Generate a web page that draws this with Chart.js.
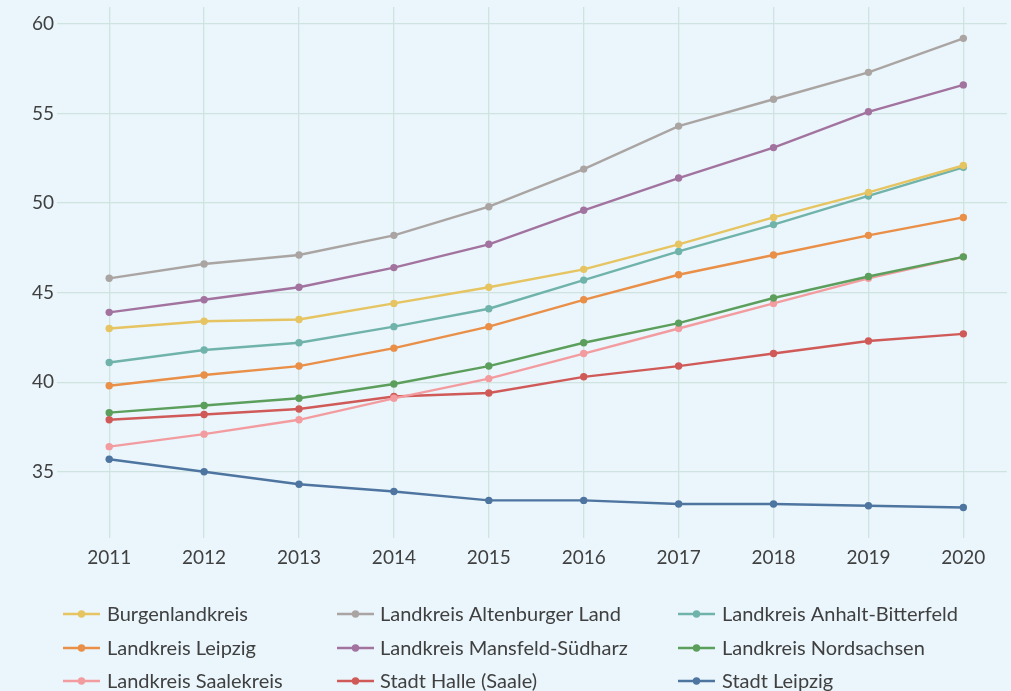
<!DOCTYPE html>
<html><head><meta charset="utf-8">
<script src="https://cdn.jsdelivr.net/npm/chart.js@4"></script>
<style>html,body{margin:0;padding:0;background:#eaf6fc;}#w{width:1011px;height:691px;position:relative;}</style>
</head><body><div id="w"><canvas id="c" width="1011" height="691"></canvas></div>
<script>
const years = [2011,2012,2013,2014,2015,2016,2017,2018,2019,2020];
const yTicks = [35,40,45,50,55,60];
const names = ["Burgenlandkreis","Landkreis Altenburger Land","Landkreis Anhalt-Bitterfeld","Landkreis Leipzig","Landkreis Mansfeld-Südharz","Landkreis Nordsachsen","Landkreis Saalekreis","Stadt Halle (Saale)","Stadt Leipzig"];
const burgenland = [43.0,43.4,43.5,44.4,45.3,46.3,47.7,49.2,50.6,52.1];
const altenburg = [45.8,46.6,47.1,48.2,49.8,51.9,54.3,55.8,57.3,59.2];
const anhalt = [41.1,41.8,42.2,43.1,44.1,45.7,47.3,48.8,50.4,52.0];
const lkLeipzig = [39.8,40.4,40.9,41.9,43.1,44.6,46.0,47.1,48.2,49.2];
const mansfeld = [43.9,44.6,45.3,46.4,47.7,49.6,51.4,53.1,55.1,56.6];
const nordsachsen = [38.3,38.7,39.1,39.9,40.9,42.2,43.3,44.7,45.9,47.0];
const saalekreis = [36.4,37.1,37.9,39.1,40.2,41.6,43.0,44.4,45.8,47.0];
const halle = [37.9,38.2,38.5,39.2,39.4,40.3,40.9,41.6,42.3,42.7];
const stLeipzig = [35.7,35.0,34.3,33.9,33.4,33.4,33.2,33.2,33.1,33.0];
const seriesValues = [burgenland,altenburg,anhalt,lkLeipzig,mansfeld,nordsachsen,saalekreis,halle,stLeipzig];
const colors = ["#e6c461","#aaa5a2","#70b3ab","#e98f47","#a2739f","#5c9f5c","#f39ca0","#d05a58","#4e74a0"];

const FONT = "Lato, 'Open Sans', sans-serif";
const datasets = names.map((n,i)=>({
  label:n,
  data: years.map((y,j)=>({x:y,y:seriesValues[i][j]})),
  borderColor: colors[i], backgroundColor: colors[i],
  borderWidth: 2.4, pointRadius: 3.7, pointBorderWidth: 0, tension: 0
}));

const legendPlugin = {
  id:'gridLegend',
  afterDraw(chart){
    const ctx = chart.ctx;
    const cols = [[63,107],[337,380],[678,722]];
    const rows = [614,648,681];
    ctx.save();
    ctx.font = "20px " + FONT;
    ctx.textBaseline = "middle";
    chart.data.datasets.forEach((ds,i)=>{
      const c = cols[i%3], r = rows[Math.floor(i/3)];
      ctx.strokeStyle = ds.borderColor; ctx.lineWidth = 2.4;
      ctx.beginPath(); ctx.moveTo(c[0], r); ctx.lineTo(c[0]+37, r); ctx.stroke();
      ctx.fillStyle = ds.borderColor;
      ctx.beginPath(); ctx.arc(c[0]+18.5, r, 3.7, 0, Math.PI*2); ctx.fill();
      ctx.fillStyle = "#404040";
      ctx.fillText(ds.label, c[1], r+1);
    });
    ctx.restore();
  }
};

new Chart(document.getElementById('c'), {
  type:'line',
  data:{datasets},
  plugins:[legendPlugin],
  options:{
    responsive:false, animation:false,
    layout:{padding:{top:7,right:0,left:0,bottom:0}},
    plugins:{legend:{display:false}, tooltip:{enabled:false}},
    scales:{
      x:{type:'linear', min:2010.45, max:2020.46,
        afterFit(s){ s.height = 153; s.paddingLeft = 0; s.paddingRight = 0; },
        afterBuildTicks(s){ s.ticks = years.map(v=>({value:v})); },
        grid:{color:"#cfe3e0", lineWidth:1.3, drawTicks:false},
        border:{display:false},
        ticks:{color:"#404040", font:{family:FONT,size:19}, padding:8, callback:v=>String(v), maxRotation:0, autoSkip:false}
      },
      y:{type:'linear', min:31.3, max:60.95,
        afterFit(s){ s.width = 57; s.paddingTop = 0; s.paddingBottom = 0; },
        afterBuildTicks(s){ s.ticks = yTicks.map(v=>({value:v})); },
        grid:{color:"#cfe3e0", lineWidth:1.3, drawTicks:false},
        border:{display:false},
        ticks:{color:"#404040", font:{family:FONT,size:19}, padding:3}
      }
    }
  }
});
</script></body></html>
